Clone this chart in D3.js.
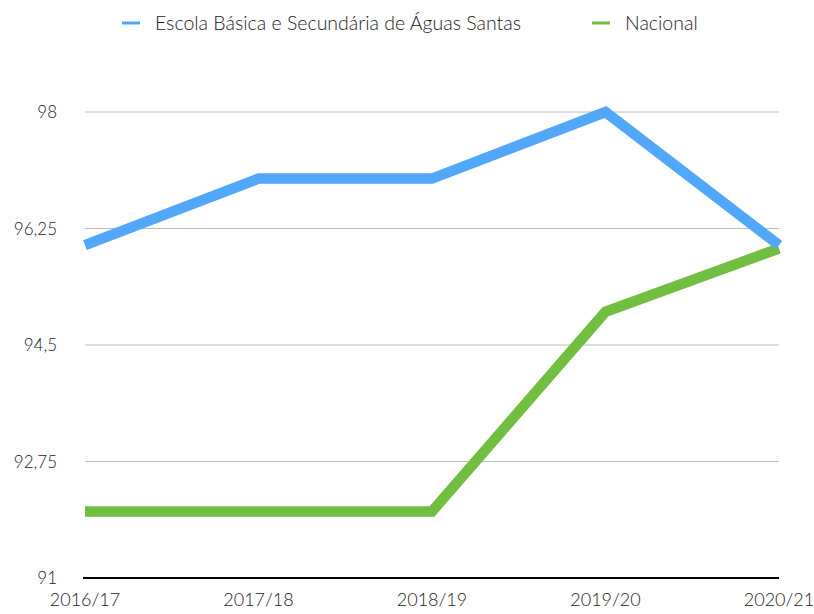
<!DOCTYPE html>
<html lang="pt">
<head>
    <meta charset="UTF-8">
    <title>Escola Básica e Secundária de Águas Santas vs Nacional</title>
    <script src="https://d3js.org/d3.v7.min.js"></script>
    <style>
        body { margin: 0; background: #fff; font-family: Lato, "Open Sans", sans-serif; }
        svg { display: block; }
        .tick-label { font-size: 17px; fill: #222; font-weight: 300; }
        .x-label { font-size: 18px; fill: #222; font-weight: 300; }
        .legend-text { font-size: 19.5px; fill: #222; font-weight: 300; }
    </style>
</head>
<body>
<svg id="chart" width="814" height="614"></svg>
<script>
// dados
const anos = ["2016/17", "2017/18", "2018/19", "2019/20", "2020/21"];
const escola = [96.0, 97.0, 97.0, 98.0, 96.0];
const nacional = [92.0, 92.0, 92.0, 95.0, 95.95];
const yTicks = [91, 92.75, 94.5, 96.25, 98];

const series = [
    { name: "Escola Básica e Secundária de Águas Santas", values: escola, color: "#51a7f9", lx: 122 },
    { name: "Nacional", values: nacional, color: "#70bf41", lx: 592 }
];

const svg = d3.select("#chart");
const m = { left: 85, right: 779, top: 112, bottom: 578 };

const x = d3.scalePoint().domain(anos).range([m.left, m.right]);
const y = d3.scaleLinear().domain([91, 98]).range([m.bottom, m.top]);

// grelha
svg.append("g")
    .selectAll("line")
    .data(yTicks.filter(d => d !== 91))
    .join("line")
    .attr("x1", m.left).attr("x2", m.right)
    .attr("y1", d => y(d)).attr("y2", d => y(d))
    .attr("stroke", "#bdbdbd").attr("stroke-width", 1);

// rótulos do eixo y
const fmt = d => String(d).replace(".", ",");
svg.append("g")
    .selectAll("text")
    .data(yTicks)
    .join("text")
    .attr("class", "tick-label")
    .attr("x", 57)
    .attr("y", d => y(d) + 6)
    .attr("text-anchor", "end")
    .text(fmt);

// linhas
const line = d3.line()
    .x((d, i) => x(anos[i]))
    .y(d => y(d));

series.slice().reverse().forEach(s => {
    svg.append("path")
        .datum(s.values)
        .attr("fill", "none")
        .attr("stroke", s.color)
        .attr("stroke-width", 10.5)
        .attr("stroke-linejoin", "miter")
        .attr("d", line);
});

// eixo x
svg.append("line")
    .attr("x1", m.left - 2).attr("x2", m.right)
    .attr("y1", m.bottom).attr("y2", m.bottom)
    .attr("stroke", "#000").attr("stroke-width", 2);

svg.append("g")
    .selectAll("text")
    .data(anos)
    .join("text")
    .attr("class", "x-label")
    .attr("x", d => x(d))
    .attr("y", 606)
    .attr("text-anchor", "middle")
    .text(d => d);

// legenda
const leg = svg.append("g");
series.forEach(s => {
    leg.append("line")
        .attr("x1", s.lx).attr("x2", s.lx + 18)
        .attr("y1", 23).attr("y2", 23)
        .attr("stroke", s.color).attr("stroke-width", 3);
    leg.append("text")
        .attr("class", "legend-text")
        .attr("x", s.lx + 33)
        .attr("y", 30)
        .text(s.name);
});
</script>
</body>
</html>
